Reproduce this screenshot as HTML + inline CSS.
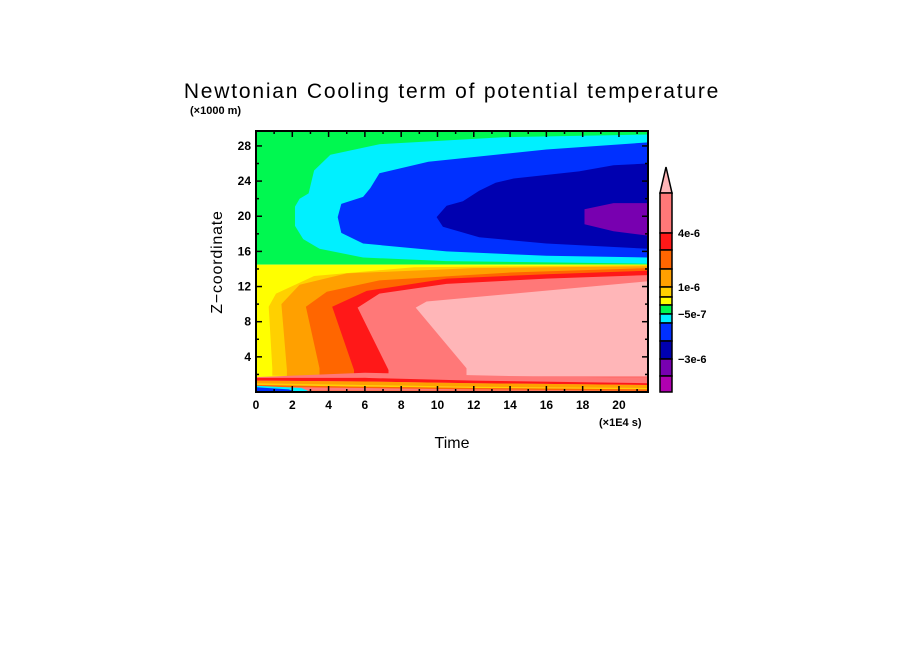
<!DOCTYPE html>
<html><head><meta charset="utf-8">
<style>
html,body{margin:0;padding:0;background:#fff;}
svg{display:block;font-family:"Liberation Sans",sans-serif;}
</style></head>
<body>
<svg id="chart" width="904" height="654" viewBox="0 0 904 654">
  <text x="452" y="98" text-anchor="middle" font-size="21" letter-spacing="1.8">Newtonian Cooling term of potential temperature</text>
  <text x="190" y="114" font-size="11" font-weight="bold">(×1000 m)</text>
  <text x="222" y="262" font-size="16" text-anchor="middle" letter-spacing="0.8" transform="rotate(-90 222 262)">Z−coordinate</text>
  <text x="452" y="448" font-size="16" text-anchor="middle">Time</text>
  <text x="599" y="426" font-size="11" font-weight="bold">(×1E4 s)</text>
  <defs><clipPath id="clip"><rect x="256" y="131" width="392" height="261"/></clipPath></defs>
  <g id="field" clip-path="url(#clip)"></g>
  <g id="axes"></g>
  <g id="cbar"></g>
</svg>
<script>
// ---- data ----
const xTicks = [0,2,4,6,8,10,12,14,16,18,20];
const yTicks = [4,8,12,16,20,24,28];
const tMax = 21.6, zMax = 29.7;
const cbarColors = ["#ff7878","#ff1818","#ff6600","#ffa000","#ffd000","#ffff00","#00f850","#00f0ff","#0030ff","#0000b0","#7800b0","#b000b0"];
const cbarLabels = ["4e-6","1e-6","-5e-7","-3e-6"];
const cbarLabelIdx = [1,4,7,10];
// lower-half boundaries (t,z) pairs
const bYellowGold = [[0.9,1.6],[0.9,2.7],[0.7,9.7],[1.1,11.2],[3.2,13.2],[8.7,14.2],[21.6,14.45]];
const bGoldOrange = [[1.7,1.6],[1.7,2.5],[1.4,10],[2.4,12.2],[5.0,13.5],[12,14.1],[21.6,14.3]];
const bOrangeDeep = [[3.5,1.6],[3.5,2.7],[2.75,9.7],[3.9,11.4],[6.8,12.7],[14,13.6],[21.6,14.1]];
const bDeepRed = [[5.4,1.6],[5.4,2.5],[4.2,9.7],[6.1,11.5],[10.5,12.9],[16,13.4],[21.6,13.8]];
const bRedSalmon = [[7.3,1.6],[7.3,2.5],[5.6,9.6],[6.8,11.2],[10.5,12.3],[16,12.9],[21.6,13.3]];
const bSalmonPink = [[11.6,1.8],[11.6,2.7],[8.8,9.6],[9.4,10.3],[14.2,11.2],[21.6,12.6]];
// upper-half regions (closed outlines)
const rCyan = [[21.6,29.3],[13.6,29.0],[6.8,28.2],[4.1,27.0],[3.2,25.2],[2.9,22.6],[2.4,22.0],[2.15,21.1],[2.15,18.9],[2.6,17.4],[3.5,16.3],[5.9,15.3],[10.5,14.9],[21.6,14.6]];
const rBlue = [[21.6,28.4],[16,27.6],[9.5,26.2],[6.8,24.9],[6.3,23.2],[5.9,22.2],[4.7,21.4],[4.5,19.9],[4.7,18.1],[5.9,16.9],[10.5,16.0],[16,15.5],[21.6,15.3]];
const rDarkBlue = [[21.6,26.0],[19.7,25.8],[17.8,25.1],[14.2,24.3],[13.2,23.8],[12.3,22.9],[11.4,21.7],[10.5,21.2],[9.95,19.9],[10.3,18.8],[12.3,17.6],[16,16.9],[21.6,16.3]];
const rPurple = [[21.6,21.5],[19.7,21.5],[18.1,20.8],[18.1,19.1],[19.7,18.3],[21.6,17.8]];
// bottom stripes: z at stripeT
const stripeT = [0,6,12,21.6];
const sSalmonTop=[1.7,2.2,1.9,1.5], sSalmonBot=[1.5,1.6,1.3,1.0];
const sRedTop=[1.6,1.6,1.3,1.0], sRedBot=[1.3,1.2,1.0,0.8];
const sOrangeTop=[1.3,1.2,1.0,0.8], sOrangeBot=[1.0,0.8,0.6,0.45];
const sYellowTop=[1.0,0.8,0.6,0.45], sYellowBot=[0.8,0.6,0.45,0.3];
const sGreenTop=[0.8,0.6,0.45,0.3], sGreenBot=[0.6,0.45,0.3,0.15];
// colorbar boundaries (value-level edges in pixel rows of the bar are derived from these relative widths)
const cbarWidths = [40,17,19,18,10,8,9,9,18,18,17,16];

// ---- scales ----
const X0=256,X1=648,Y0=392,Y1=131;
const X=t=>X0+t*(X1-X0)/tMax;
const Y=z=>Y0-z*(Y0-Y1)/zMax;
const NS="http://www.w3.org/2000/svg";
function mk(tag,attrs,parent){const e=document.createElementNS(NS,tag);for(const k in attrs)e.setAttribute(k,attrs[k]);parent.appendChild(e);return e;}
const field=document.getElementById('field');
function poly(pts,color,name){
  const e=mk('polygon',{points:pts.map(p=>X(p[0]).toFixed(1)+','+Y(p[1]).toFixed(1)).join(' '),fill:color},field);
  
  
}
poly([[0,14.5],[tMax,14.5],[tMax,zMax+1],[0,zMax+1]],"#00f850","region-green");
poly([[0,0],[tMax,0],[tMax,14.5],[0,14.5]],"#ffff00","region-yellow");
function rightOf(b,color,name){poly(b.concat([[tMax,b[b.length-1][1]],[tMax,b[0][1]]]),color,name);}
rightOf(bYellowGold,"#ffd000","region-gold");
rightOf(bGoldOrange,"#ffa000","region-orange");
rightOf(bOrangeDeep,"#ff6600","region-deep-orange");
rightOf(bDeepRed,"#ff1818","region-red");
rightOf(bRedSalmon,"#ff7878","region-salmon");
rightOf(bSalmonPink,"#ffb6b8","region-pink");
function band(top,bot,color,name){
  const pts=stripeT.map((t,i)=>[t,top[i]]).concat(stripeT.map((t,i)=>[t,bot[i]]).reverse());
  poly(pts,color,name);
}
poly([[0,0],[tMax,0],[tMax,1.6],[0,1.6]],"#ff7878","bottom-base");
poly([[0,1.5],[6,1.6],[0,1.9]],"#ffff00","bottom-left-yellow");
band(sSalmonTop,sSalmonBot,"#ff7878","stripe-salmon");
band(sRedTop,sRedBot,"#ff1818","stripe-red");
band(sOrangeTop,sOrangeBot,"#ffa000","stripe-orange");
band(sYellowTop,sYellowBot,"#ffd000","stripe-yellow");
band(sGreenTop,sGreenBot,"#ff6600","stripe-bottom");
poly([[0,0],[tMax,0],[tMax,0.15],[0,0.15]],"#ff6600","stripe-floor");
poly([[0,0],[3,0],[2.5,0.45],[0,0.7]],"#00f0ff","region-bottom-cyan");
poly([[0,0],[2.2,0],[1.8,0.3],[0,0.55]],"#0030ff","region-bottom-blue");
poly(rCyan,"#00f0ff","region-cyan");
poly(rBlue,"#0030ff","region-blue");
poly(rDarkBlue,"#0000b0","region-dark-blue");
poly(rPurple,"#7800b0","region-purple");

// ---- axes ----
const axes=document.getElementById('axes');
const frame=mk('rect',{x:X0,y:Y1,width:X1-X0,height:Y0-Y1,fill:'none',stroke:'#000','stroke-width':2},axes);


for(let t=1;t<=21;t++){
  const L=(t%2===0)?6:3;
  mk('line',{x1:X(t),x2:X(t),y1:Y0,y2:Y0-L,stroke:'#000','stroke-width':1.5},axes);
  mk('line',{x1:X(t),x2:X(t),y1:Y1,y2:Y1+L,stroke:'#000','stroke-width':1.5},axes);
}
for(let z=2;z<=28;z+=2){
  const L=(z%4===0)?6:3;
  mk('line',{x1:X0,x2:X0+L,y1:Y(z),y2:Y(z),stroke:'#000','stroke-width':1.5},axes);
  mk('line',{x1:X1,x2:X1-L,y1:Y(z),y2:Y(z),stroke:'#000','stroke-width':1.5},axes);
}
xTicks.forEach(v=>{
  const e=mk('text',{x:X(v),y:Y0+17,'text-anchor':'middle','font-size':12,'font-weight':'bold'},axes);
  e.textContent=v;
  
  
});
yTicks.forEach(v=>{
  const e=mk('text',{x:X0-5,y:Y(v)+4,'text-anchor':'end','font-size':12,'font-weight':'bold'},axes);
  e.textContent=v;
  
  
});

// ---- colorbar ----
const cb=document.getElementById('cbar');
const cx0=660,cx1=672,ctop=193,cbot=392;
const totalW=cbarWidths.reduce((a,b)=>a+b,0);
const edges=[ctop];
cbarWidths.forEach(w=>edges.push(edges[edges.length-1]+w*(cbot-ctop)/totalW));
const tri=mk('polygon',{points:`${cx0},${ctop} ${cx1},${ctop} ${(cx0+cx1)/2},167`,fill:'#ffb6b8',stroke:'#000','stroke-width':1.5},cb);


cbarColors.forEach((c,i)=>{
  const r=mk('rect',{x:cx0,y:edges[i],width:cx1-cx0,height:edges[i+1]-edges[i],fill:c,stroke:'#000','stroke-width':1.5},cb);
  
  
});
const labelEdge=[1,4,7,10];
cbarLabels.forEach((s,i)=>{
  const e=mk('text',{x:cx1+6,y:edges[labelEdge[i]]+4,'font-size':11,'font-weight':'bold'},cb);
  e.textContent=s.replace(/^-/,'−');
  
  
});
</script>
</body></html>
